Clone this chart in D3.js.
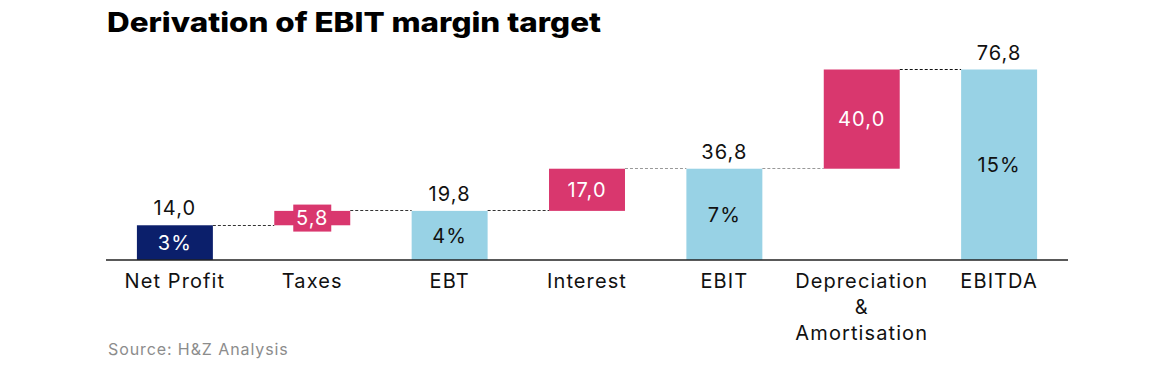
<!DOCTYPE html>
<html>
<head>
<meta charset="utf-8">
<script src="https://cdn.jsdelivr.net/npm/d3@7"></script>
<style>
  html, body { margin: 0; padding: 0; background: #fff; }
  svg { display: block; }
</style>
</head>
<body>
<svg id="chart" width="1174" height="379"></svg>
<script>
const categories = ["Net Profit", "Taxes", "EBT", "Interest", "EBIT", "Depreciation & Amortisation", "EBITDA"];
const categoryLines = [["Net Profit"], ["Taxes"], ["EBT"], ["Interest"], ["EBIT"], ["Depreciation", "&", "Amortisation"], ["EBITDA"]];
const values = [14.0, 5.8, 19.8, 17.0, 36.8, 40.0, 76.8];
const kinds = ["total", "delta", "total", "delta", "total", "delta", "total"];
const marginLabels = ["3%", "", "4%", "", "7%", "", "15%"];
const titleText = "Derivation of EBIT margin target";
const sourceText = "Source: H&Z Analysis";

const fmt = v => v.toFixed(1).replace(".", ",");
const FONT = "Inter, Lato, sans-serif";
const BODY = 20;
const LS = "1.1px";

// build waterfall rows
let running = 0;
const rows = categories.map((c, i) => {
  let y0, y1;
  if (kinds[i] === "total") { y0 = 0; y1 = values[i]; running = values[i]; }
  else { y0 = running; y1 = running + values[i]; running = y1; }
  return { cat: c, lines: categoryLines[i], value: values[i], kind: kinds[i], margin: marginLabels[i], y0, y1, i };
});

const svg = d3.select("#chart");
const x = d3.scaleBand().domain(categories).range([106, 1068]).paddingInner(0.447).paddingOuter(0.225);
const y = d3.scaleLinear().domain([0, 76.8]).range([260, 69.5]);

const colorOf = d => d.kind === "delta" ? "#d9376e" : (d.i === 0 ? "#0b1f6b" : "#98d2e5");
const connectorColors = ["#333", "#333", "#333", "#999", "#999", "#111"];

// title
svg.append("text").attr("x", 107).attr("y", 32)
  .attr("font-family", FONT).attr("font-weight", 800).attr("font-size", 27)
  .attr("textLength", 494).attr("lengthAdjust", "spacingAndGlyphs")
  .attr("fill", "#000").text(titleText);

// connectors
rows.slice(0, -1).forEach((d, k) => {
  const next = rows[k + 1];
  const yy = Math.floor(y(d.y1)) + 0.5;
  svg.append("line")
    .attr("x1", x(d.cat) + x.bandwidth()).attr("x2", x(next.cat))
    .attr("y1", yy).attr("y2", yy)
    .attr("stroke", connectorColors[k]).attr("stroke-width", 1)
    .attr("stroke-dasharray", "3,2");
});

// bars
svg.selectAll("rect.bar").data(rows).join("rect").attr("class", "bar")
  .attr("x", d => x(d.cat)).attr("width", x.bandwidth())
  .attr("y", d => y(d.y1)).attr("height", d => y(d.y0) - y(d.y1))
  .attr("fill", colorOf);

// axis line
svg.append("line").attr("x1", 106).attr("x2", 1068).attr("y1", 260).attr("y2", 260)
  .attr("stroke", "#222").attr("stroke-width", 1.5);

// delta labels (with background box if bar is too small)
rows.filter(d => d.kind === "delta").forEach(d => {
  const cx = x(d.cat) + x.bandwidth() / 2;
  const cy = (y(d.y0) + y(d.y1)) / 2;
  const h = y(d.y0) - y(d.y1);
  const t = svg.append("text").attr("x", cx).attr("y", cy).attr("dy", "0.36em")
    .attr("text-anchor", "middle").attr("font-family", FONT).attr("font-size", BODY)
    .attr("letter-spacing", LS)
    .attr("fill", "#fff").text(fmt(d.value));
  if (h < 24) {
    svg.insert("rect", () => t.node())
      .attr("x", cx - 19).attr("width", 38)
      .attr("y", cy - 13.5).attr("height", 27).attr("fill", colorOf(d));
  }
});

// totals: value above, margin inside
rows.filter(d => d.kind === "total").forEach(d => {
  const cx = x(d.cat) + x.bandwidth() / 2;
  svg.append("text").attr("x", cx).attr("y", y(d.y1) - 10)
    .attr("text-anchor", "middle").attr("font-family", FONT).attr("font-size", BODY)
    .attr("letter-spacing", LS)
    .attr("fill", "#111").text(fmt(d.value));
  svg.append("text").attr("x", cx).attr("y", (y(d.y0) + y(d.y1)) / 2).attr("dy", "0.36em")
    .attr("text-anchor", "middle").attr("font-family", FONT).attr("font-size", BODY)
    .attr("letter-spacing", LS)
    .attr("fill", d.i === 0 ? "#fff" : "#111").text(d.margin);
});

// category labels
rows.forEach(d => {
  const t = svg.append("text").attr("text-anchor", "middle")
    .attr("font-family", FONT).attr("font-size", BODY).attr("letter-spacing", LS).attr("fill", "#111");
  d.lines.forEach((ln, j) => {
    t.append("tspan").attr("x", x(d.cat) + x.bandwidth() / 2).attr("y", 288 + j * 26).text(ln);
  });
});

// source
svg.append("text").attr("x", 108).attr("y", 355)
  .attr("font-family", FONT).attr("font-size", 16).attr("letter-spacing", "0.9px")
  .attr("fill", "#8c8c8c").text(sourceText);
</script>
</body>
</html>
